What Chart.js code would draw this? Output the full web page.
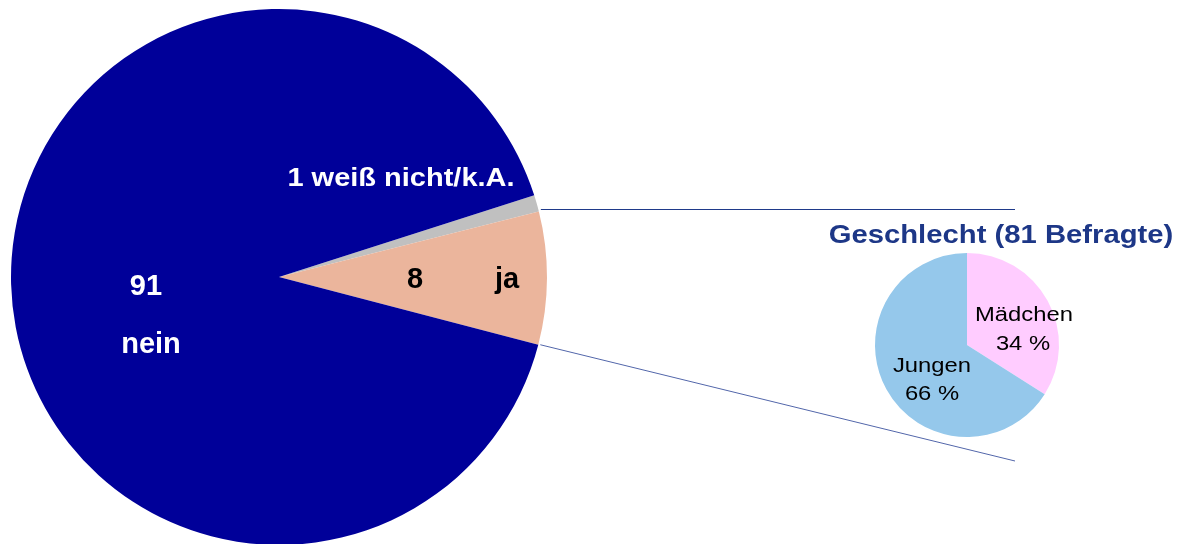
<!DOCTYPE html>
<html>
<head>
<meta charset="utf-8">
<script src="https://cdn.jsdelivr.net/npm/chart.js@4"></script>
<style>
  body { margin: 0; width: 1180px; height: 544px; overflow: hidden; background: #fff; position: relative; }
  canvas { position: absolute; }
</style>
</head>
<body>
<canvas id="mainPie" width="558" height="558" style="left:0;top:-2px"></canvas>
<canvas id="genderPie" width="413" height="290" style="left:767px;top:200px"></canvas>
<canvas id="links" width="1180" height="544" style="left:0;top:0;pointer-events:none"></canvas>
<script>
// the data
var answerLabels = ['weiß nicht/k.A.', 'ja', 'nein'];
var answerValues = [1, 8, 91];
var genderLabels = ['Mädchen', 'Jungen'];
var genderShares = [34, 66];
var genderCount = 81;

var FONT = '"Liberation Sans", Arial, sans-serif';

// draws text a bit wider than normal, like the original slide did
function stretchText(ctx, text, x, y, font, color, sx) {
    ctx.save();
    ctx.translate(x, y);
    ctx.scale(sx || 1, 1);
    ctx.font = font;
    ctx.fillStyle = color;
    ctx.textAlign = 'center';
    ctx.textBaseline = 'alphabetic';
    ctx.fillText(text, 0, 0);
    ctx.restore();
}

function centerOf(chart) {
    var arc = chart.getDatasetMeta(0).data[0];
    return { x: arc.x, y: arc.y };
}

var mainLabels = {
    id: 'mainLabels',
    afterDraw: function(chart) {
        var ctx = chart.ctx, c = centerOf(chart);
        stretchText(ctx, answerValues[0] + ' ' + answerLabels[0], c.x + 122, c.y - 91, 'bold 25px ' + FONT, '#fff', 1.16);
        stretchText(ctx, String(answerValues[1]), c.x + 136, c.y + 11, 'bold 29px ' + FONT, '#000');
        stretchText(ctx, answerLabels[1], c.x + 228, c.y + 11, 'bold 29px ' + FONT, '#000');
        stretchText(ctx, String(answerValues[2]), c.x - 133, c.y + 18, 'bold 29px ' + FONT, '#fff');
        stretchText(ctx, answerLabels[2], c.x - 128, c.y + 76, 'bold 29px ' + FONT, '#fff');
    }
};

var genderText = {
    id: 'genderText',
    afterDraw: function(chart) {
        var ctx = chart.ctx, c = centerOf(chart);
        stretchText(ctx, 'Geschlecht (' + genderCount + ' Befragte)', c.x + 34, c.y - 102, 'bold 25px ' + FONT, '#1D3787', 1.17);
        stretchText(ctx, genderLabels[0], c.x + 57, c.y - 24, '20px ' + FONT, '#000', 1.19);
        stretchText(ctx, genderShares[0] + ' %', c.x + 56, c.y + 5, '20px ' + FONT, '#000', 1.19);
        stretchText(ctx, genderLabels[1], c.x - 35, c.y + 27, '20px ' + FONT, '#000', 1.19);
        stretchText(ctx, genderShares[1] + ' %', c.x - 35, c.y + 55, '20px ' + FONT, '#000', 1.19);
    }
};

var mainChart = new Chart(document.getElementById('mainPie'), {
    type: 'pie',
    data: {
        labels: answerLabels,
        datasets: [{
            data: answerValues,
            backgroundColor: ['#C0C0C0', '#EBB59C', '#000099'],
            borderWidth: 0
        }]
    },
    options: {
        responsive: false,
        animation: false,
        rotation: 72.24,
        layout: { padding: 11 },
        plugins: { legend: { display: false }, tooltip: { enabled: false } }
    },
    plugins: [mainLabels]
});

var genderChart = new Chart(document.getElementById('genderPie'), {
    type: 'pie',
    data: {
        labels: genderLabels,
        datasets: [{
            data: genderShares,
            backgroundColor: ['#FFCCFF', '#95C8EB'],
            borderWidth: 0
        }]
    },
    options: {
        responsive: false,
        animation: false,
        layout: { padding: { left: 108, right: 121, top: 53, bottom: 53 } },
        plugins: { legend: { display: false }, tooltip: { enabled: false } }
    },
    plugins: [genderText]
});

// connector lines from the "ja" slice over to the small pie
function drawLinks() {
    var ctx = document.getElementById('links').getContext('2d');
    var ja = mainChart.getDatasetMeta(0).data[1];
    var mc = mainChart.canvas, gc = genderChart.canvas;
    var ox = mc.offsetLeft, oy = mc.offsetTop;
    var g = centerOf(genderChart);
    var gx = gc.offsetLeft + g.x, gy = gc.offsetTop + g.y;

    var x1 = ox + ja.x + Math.cos(ja.startAngle) * ja.outerRadius;
    var y1 = oy + ja.y + Math.sin(ja.startAngle) * ja.outerRadius;
    var x2 = ox + ja.x + Math.cos(ja.endAngle) * ja.outerRadius;
    var y2 = oy + ja.y + Math.sin(ja.endAngle) * ja.outerRadius;

    ctx.lineWidth = 1;
    ctx.strokeStyle = '#1F3A8A';
    ctx.beginPath();
    ctx.moveTo(x1 + 2, Math.round(y1) - 1.5);
    ctx.lineTo(gx + 48, Math.round(y1) - 1.5);
    ctx.stroke();

    ctx.strokeStyle = '#5266AA';
    ctx.beginPath();
    ctx.moveTo(x2 + 2, y2);
    ctx.lineTo(gx + 48, gy + 116);
    ctx.stroke();
}
drawLinks();
</script>
</body>
</html>
